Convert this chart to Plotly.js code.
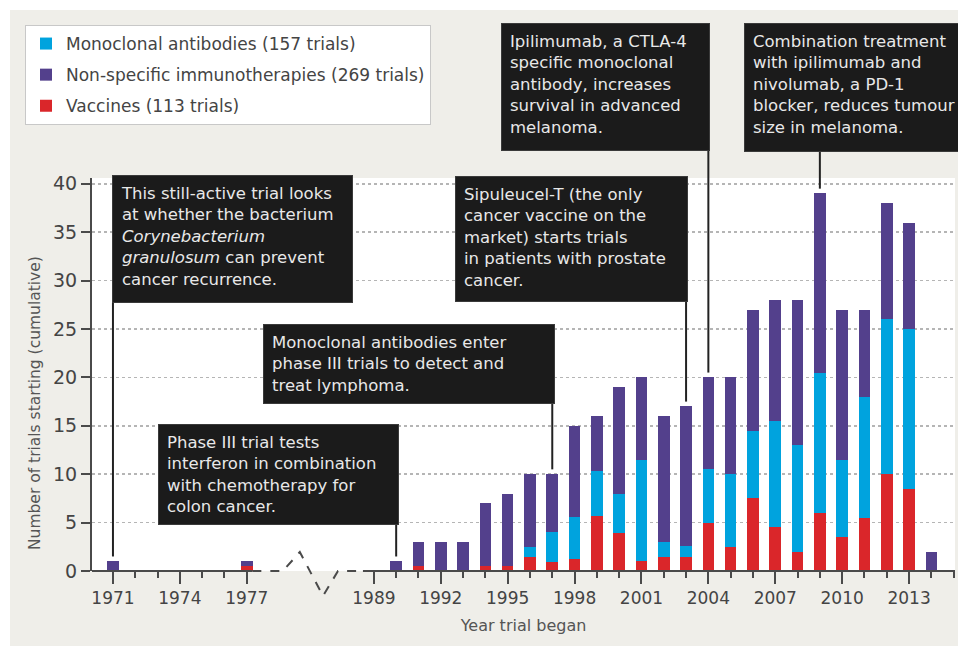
<!DOCTYPE html>
<html>
<head>
<meta charset="utf-8">
<script src="https://cdn.plot.ly/plotly-3.0.1.min.js"></script>
<style>html,body{margin:0;padding:0;background:#fff;}</style>
</head>
<body>
<div id="chart" style="width:958px;height:646px;"></div>
<script>
// ---------- DATA ----------
const years = [1971, 1977, 1990, 1991, 1992, 1993, 1994, 1995, 1996, 1997, 1998, 1999, 2000, 2001,
               2002, 2003, 2004, 2005, 2006, 2007, 2008, 2009, 2010, 2011, 2012, 2013, 2014];
const vaccines    = [0, 0.5, 0, 0.5, 0, 0, 0.5, 0.5, 1.4, 0.9, 1.2, 5.7, 3.9, 1.0,
                     1.4, 1.4, 5.0, 2.5, 7.5, 4.5, 2.0, 6.0, 3.5, 5.5, 10.0, 8.5, 0];
const monoclonal  = [0, 0, 0, 0, 0, 0, 0, 0, 1.1, 3.1, 4.4, 4.6, 4.1, 10.5,
                     1.6, 1.2, 5.5, 7.5, 7.0, 11.0, 11.0, 14.5, 8.0, 12.5, 16.0, 16.5, 0];
const nonSpecific = [1, 0.5, 1, 2.5, 3, 3, 6.5, 7.5, 7.5, 6.0, 9.4, 5.7, 11.0, 8.5,
                     13.0, 14.4, 9.5, 10.0, 12.5, 12.5, 15.0, 18.5, 15.5, 9.0, 12.0, 11.0, 2];
const seriesNames = ['Vaccines (113 trials)', 'Monoclonal antibodies (157 trials)', 'Non-specific immunotherapies (269 trials)'];
const tickYears = [1971, 1974, 1977, 1989, 1992, 1995, 1998, 2001, 2004, 2007, 2010, 2013];
const minorTickYears = [1971, 1972, 1973, 1974, 1975, 1976, 1977,
  1989, 1990, 1991, 1992, 1993, 1994, 1995, 1996, 1997, 1998, 1999, 2000, 2001, 2002,
  2003, 2004, 2005, 2006, 2007, 2008, 2009, 2010, 2011, 2012, 2013, 2014, 2015];
const yTicks = [0, 5, 10, 15, 20, 25, 30, 35, 40];

// ---------- AXIS BREAK MAPPING (1978-1988 compressed) ----------
const BREAK_FROM = 1977, BREAK_TO = 1989, BREAK_GAP = 5.7;
function pos(y) { return y <= BREAK_FROM ? y - 1971 : (BREAK_FROM - 1971) + BREAK_GAP + (y - BREAK_TO); }
const totals = years.map((_, i) => vaccines[i] + monoclonal[i] + nonSpecific[i]);
function totalOf(y) { return totals[years.indexOf(y)]; }

// ---------- GEOMETRY HELPERS (layout only) ----------
const L = 92, R = 955, T = 178, B = 571, W = R - L, H = B - T;
const X_RANGE = [-0.94, 37.76], Y_RANGE = [0, 40.6];
const px = x => (x - L) / W;
const py = y => (B - y) / H;
const vy = v => v / Y_RANGE[1];
const FONT = 'DejaVu Sans';

const colors = { vac: '#da262a', mab: '#00a3de', ns: '#53408c' };
const xs = years.map(pos);
const barW = 0.52;
const traces = [
  { type: 'bar', x: xs, y: vaccines, name: seriesNames[0], width: barW, marker: { color: colors.vac }, legendrank: 3, legendgroup: 'v', hoverinfo: 'skip' },
  { type: 'bar', x: xs, y: monoclonal, name: seriesNames[1], width: barW, marker: { color: colors.mab }, legendrank: 1, legendgroup: 'm', hoverinfo: 'skip' },
  { type: 'bar', x: xs, y: nonSpecific, name: seriesNames[2], width: barW, marker: { color: colors.ns }, legendrank: 2, legendgroup: 'n', hoverinfo: 'skip' }
];

// ---------- ANNOTATION BOXES ----------
const notes = [
  { year: 1971, left: 112, top: 175, w: 241, h: 128, text: 'This still-active trial looks<br>at whether the bacterium<br><i>Corynebacterium</i><br><i>granulosum</i> can prevent<br>cancer recurrence.' },
  { year: 1997, left: 263, top: 324, w: 292, h: 80, text: 'Monoclonal antibodies enter<br>phase III trials to detect and<br>treat lymphoma.' },
  { year: 1990, left: 158, top: 424, w: 241, h: 101, text: 'Phase III trial tests<br>interferon in combination<br>with chemotherapy for<br>colon cancer.' },
  { year: 2003, left: 455, top: 176, w: 233, h: 126, text: 'Sipuleucel-T (the only<br>cancer vaccine on the<br>market) starts trials<br>in patients with prostate<br>cancer.' },
  { year: 2004, left: 501, top: 23, w: 209, h: 128, text: 'Ipilimumab, a CTLA-4<br>specific monoclonal<br>antibody, increases<br>survival in advanced<br>melanoma.' },
  { year: 2009, left: 744, top: 23, w: 226, h: 129, text: 'Combination treatment<br>with ipilimumab and<br>nivolumab, a PD-1<br>blocker, reduces tumour<br>size in melanoma.' }
];
const PAD = 8, BW = 1;
const annotations = notes.map(n => ({
  xref: 'paper', yref: 'paper', x: px(n.left), y: py(n.top), xanchor: 'left', yanchor: 'top',
  text: n.text, showarrow: false, align: 'left', valign: 'top',
  width: n.w - 2 * (PAD + BW), height: n.h - 2 * (PAD + BW),
  bgcolor: '#1b1b1b', bordercolor: '#3a3a3a', borderwidth: BW, borderpad: PAD,
  font: { family: FONT, size: 16.5, color: '#e8e8e8' }
}));
annotations.push({
  xref: 'paper', yref: 'paper', x: px(35), y: py(403), xanchor: 'center', yanchor: 'middle',
  text: 'Number of trials starting (cumulative)', textangle: -90, showarrow: false,
  font: { family: FONT, size: 15.5, color: '#555' }
});

// ---------- SHAPES ----------
const shapes = [];
// white outer frame strips
shapes.push({ type: 'rect', xref: 'paper', yref: 'paper', x0: px(0), x1: px(958), y0: py(10), y1: py(0), fillcolor: '#fff', line: { width: 0 }, layer: 'below' });
shapes.push({ type: 'rect', xref: 'paper', yref: 'paper', x0: px(0), x1: px(10), y0: py(646), y1: py(0), fillcolor: '#fff', line: { width: 0 }, layer: 'below' });
// broken x axis line
const axisCol = '#4a4a4a';
const solidEnd = pos(BREAK_FROM) + 0.25, dashEnd1 = pos(BREAK_FROM) + 1.62;
const zzTop = pos(BREAK_FROM) + 2.38, zzBot = pos(BREAK_FROM) + 3.42, zzEnd = pos(BREAK_FROM) + 4.09;
const solidStart = pos(BREAK_TO) - 0.49;
shapes.push({ type: 'line', xref: 'x', yref: 'paper', x0: X_RANGE[0], x1: solidEnd, y0: 0, y1: 0, line: { color: axisCol, width: 2 } });
shapes.push({ type: 'line', xref: 'x', yref: 'paper', x0: solidStart, x1: X_RANGE[1], y0: 0, y1: 0, line: { color: axisCol, width: 2 } });
shapes.push({ type: 'path', xref: 'x', yref: 'paper',
  path: `M${solidEnd},0 L${dashEnd1},0 L${zzTop},${19 / H} L${zzBot},${-25 / H} L${zzEnd},0 L${solidStart},0`,
  line: { color: axisCol, width: 2, dash: 'dash' } });
// leader lines from boxes to bars
notes.forEach(n => {
  shapes.push({ type: 'line', xref: 'x', yref: 'paper', x0: pos(n.year), x1: pos(n.year),
    y0: vy(totalOf(n.year) + 0.5), y1: py(n.top + n.h), line: { color: '#222', width: 2 } });
});

const layout = {
  width: 958, height: 646,
  margin: { l: L, r: 958 - R, t: T, b: 646 - B, pad: 0, autoexpand: false },
  paper_bgcolor: '#efeee9', plot_bgcolor: '#ffffff',
  font: { family: FONT, color: '#444' },
  barmode: 'stack', bargap: 0,
  showlegend: true,
  legend: {
    xref: 'container', yref: 'container', x: 25 / 958, y: 1 - 25 / 646, xanchor: 'left', yanchor: 'top',
    bgcolor: '#ffffff', bordercolor: '#c8c8c8', borderwidth: 1,
    font: { family: FONT, size: 17, color: '#444' }, tracegroupgap: 6
  },
  xaxis: {
    range: X_RANGE, fixedrange: true,
    tickmode: 'array', tickvals: tickYears.map(pos), ticktext: tickYears.map(String),
    ticks: 'outside', ticklen: 12, tickwidth: 2, tickcolor: axisCol,
    showline: false, showgrid: false, zeroline: false,
    tickfont: { family: FONT, size: 17, color: '#444' },
    minor: { tickmode: 'array', tickvals: minorTickYears.map(pos), ticks: 'outside', ticklen: 6, tickwidth: 2, tickcolor: axisCol, showgrid: false },
    title: { text: 'Year trial began', font: { family: FONT, size: 16, color: '#555' }, standoff: 12 }
  },
  yaxis: {
    range: Y_RANGE, fixedrange: true,
    tickmode: 'array', tickvals: yTicks,
    ticks: 'outside', ticklen: 9, tickwidth: 2, tickcolor: axisCol,
    showline: true, linecolor: axisCol, linewidth: 2,
    showgrid: true, gridcolor: '#b5b5b5', griddash: 'dot', gridwidth: 1.5, zeroline: false,
    tickfont: { family: FONT, size: 19, color: '#444' }
  },
  annotations: annotations,
  shapes: shapes
};

Plotly.newPlot('chart', traces, layout, { displayModeBar: false, staticPlot: true });
</script>
</body>
</html>
